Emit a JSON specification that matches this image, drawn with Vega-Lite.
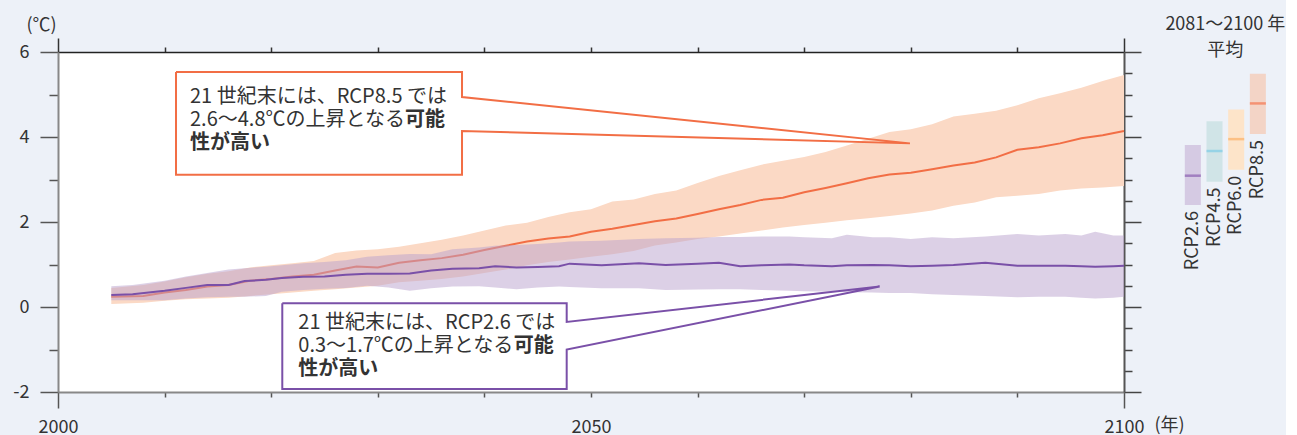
{
  "$schema": "https://vega.github.io/schema/vega-lite/v6.json",
  "background": "#edf1f8",
  "padding": {"left": 12, "top": 16, "right": 0, "bottom": 0},
  "bounds": "flush",
  "spacing": 58,
  "config": {
    "font": "Noto Sans CJK JP",
    "view": {"fill": "white", "stroke": null},
    "axis": {"labelFont": "Noto Sans CJK JP", "titleFont": "Noto Sans CJK JP", "labelColor": "#333", "titleColor": "#333", "labelFontSize": 18, "titleFontSize": 18, "titleFontWeight": "normal", "grid": false, "zindex": 1},
    "text": {"font": "Noto Sans CJK JP", "fontSize": 20, "color": "#333"}
  },
  "datasets": {
    "rcp85": [
      {"year": 2005, "mean": 0.24, "lo": 0.07, "hi": 0.45},
      {"year": 2008, "mean": 0.26, "lo": 0.10, "hi": 0.52},
      {"year": 2010, "mean": 0.34, "lo": 0.15, "hi": 0.60},
      {"year": 2012, "mean": 0.40, "lo": 0.18, "hi": 0.70},
      {"year": 2014, "mean": 0.48, "lo": 0.20, "hi": 0.78},
      {"year": 2016, "mean": 0.52, "lo": 0.22, "hi": 0.84},
      {"year": 2018, "mean": 0.62, "lo": 0.26, "hi": 0.93},
      {"year": 2020, "mean": 0.66, "lo": 0.30, "hi": 0.98},
      {"year": 2022, "mean": 0.72, "lo": 0.34, "hi": 1.03},
      {"year": 2024, "mean": 0.76, "lo": 0.38, "hi": 1.08},
      {"year": 2026, "mean": 0.86, "lo": 0.42, "hi": 1.27},
      {"year": 2028, "mean": 0.95, "lo": 0.46, "hi": 1.33},
      {"year": 2030, "mean": 0.93, "lo": 0.50, "hi": 1.36},
      {"year": 2032, "mean": 1.04, "lo": 0.58, "hi": 1.42},
      {"year": 2034, "mean": 1.10, "lo": 0.62, "hi": 1.50},
      {"year": 2036, "mean": 1.15, "lo": 0.66, "hi": 1.58},
      {"year": 2038, "mean": 1.23, "lo": 0.72, "hi": 1.68},
      {"year": 2040, "mean": 1.34, "lo": 0.80, "hi": 1.80},
      {"year": 2042, "mean": 1.44, "lo": 0.88, "hi": 1.92},
      {"year": 2044, "mean": 1.54, "lo": 0.98, "hi": 1.98},
      {"year": 2046, "mean": 1.61, "lo": 1.06, "hi": 2.12},
      {"year": 2048, "mean": 1.66, "lo": 1.12, "hi": 2.23},
      {"year": 2050, "mean": 1.77, "lo": 1.18, "hi": 2.30},
      {"year": 2052, "mean": 1.84, "lo": 1.24, "hi": 2.48},
      {"year": 2054, "mean": 1.93, "lo": 1.32, "hi": 2.53},
      {"year": 2056, "mean": 2.02, "lo": 1.45, "hi": 2.66},
      {"year": 2058, "mean": 2.08, "lo": 1.52, "hi": 2.74},
      {"year": 2060, "mean": 2.19, "lo": 1.60, "hi": 2.92},
      {"year": 2062, "mean": 2.30, "lo": 1.66, "hi": 3.08},
      {"year": 2064, "mean": 2.40, "lo": 1.73, "hi": 3.22},
      {"year": 2066, "mean": 2.52, "lo": 1.80, "hi": 3.35},
      {"year": 2068, "mean": 2.57, "lo": 1.87, "hi": 3.44},
      {"year": 2070, "mean": 2.70, "lo": 1.93, "hi": 3.53},
      {"year": 2072, "mean": 2.80, "lo": 1.98, "hi": 3.65},
      {"year": 2074, "mean": 2.91, "lo": 2.04, "hi": 3.80},
      {"year": 2076, "mean": 3.03, "lo": 2.09, "hi": 3.96},
      {"year": 2078, "mean": 3.12, "lo": 2.14, "hi": 4.12},
      {"year": 2080, "mean": 3.16, "lo": 2.20, "hi": 4.18},
      {"year": 2082, "mean": 3.24, "lo": 2.27, "hi": 4.30},
      {"year": 2084, "mean": 3.33, "lo": 2.38, "hi": 4.48},
      {"year": 2086, "mean": 3.40, "lo": 2.46, "hi": 4.55},
      {"year": 2088, "mean": 3.52, "lo": 2.58, "hi": 4.62},
      {"year": 2090, "mean": 3.70, "lo": 2.62, "hi": 4.75},
      {"year": 2092, "mean": 3.76, "lo": 2.66, "hi": 4.91},
      {"year": 2094, "mean": 3.85, "lo": 2.74, "hi": 5.03},
      {"year": 2096, "mean": 3.97, "lo": 2.79, "hi": 5.16},
      {"year": 2098, "mean": 4.04, "lo": 2.81, "hi": 5.32},
      {"year": 2100, "mean": 4.14, "lo": 2.85, "hi": 5.46}
    ],
    "rcp26": [
      {"year": 2005, "mean": 0.28, "lo": 0.16, "hi": 0.49},
      {"year": 2007, "mean": 0.30, "lo": 0.16, "hi": 0.52},
      {"year": 2010, "mean": 0.38, "lo": 0.16, "hi": 0.62},
      {"year": 2012, "mean": 0.45, "lo": 0.20, "hi": 0.72},
      {"year": 2014, "mean": 0.52, "lo": 0.23, "hi": 0.80},
      {"year": 2016, "mean": 0.52, "lo": 0.24, "hi": 0.88},
      {"year": 2017.5, "mean": 0.61, "lo": 0.24, "hi": 0.91},
      {"year": 2019.5, "mean": 0.64, "lo": 0.26, "hi": 0.95},
      {"year": 2021, "mean": 0.68, "lo": 0.36, "hi": 0.98},
      {"year": 2023, "mean": 0.71, "lo": 0.40, "hi": 1.03},
      {"year": 2025, "mean": 0.72, "lo": 0.43, "hi": 1.06},
      {"year": 2027, "mean": 0.76, "lo": 0.45, "hi": 1.10},
      {"year": 2029, "mean": 0.78, "lo": 0.50, "hi": 1.18},
      {"year": 2031, "mean": 0.78, "lo": 0.46, "hi": 1.22},
      {"year": 2033, "mean": 0.79, "lo": 0.38, "hi": 1.25},
      {"year": 2035, "mean": 0.86, "lo": 0.44, "hi": 1.24},
      {"year": 2037, "mean": 0.90, "lo": 0.48, "hi": 1.36},
      {"year": 2039.5, "mean": 0.91, "lo": 0.49, "hi": 1.40},
      {"year": 2041, "mean": 0.96, "lo": 0.46, "hi": 1.44},
      {"year": 2043, "mean": 0.93, "lo": 0.42, "hi": 1.46},
      {"year": 2045, "mean": 0.94, "lo": 0.46, "hi": 1.48},
      {"year": 2047, "mean": 0.96, "lo": 0.48, "hi": 1.52},
      {"year": 2048, "mean": 1.02, "lo": 0.47, "hi": 1.54},
      {"year": 2051, "mean": 0.98, "lo": 0.44, "hi": 1.56},
      {"year": 2054.5, "mean": 1.03, "lo": 0.44, "hi": 1.60},
      {"year": 2057, "mean": 0.99, "lo": 0.40, "hi": 1.62},
      {"year": 2060, "mean": 1.02, "lo": 0.41, "hi": 1.63},
      {"year": 2062, "mean": 1.04, "lo": 0.42, "hi": 1.65},
      {"year": 2064, "mean": 0.96, "lo": 0.42, "hi": 1.65},
      {"year": 2066, "mean": 0.98, "lo": 0.40, "hi": 1.66},
      {"year": 2068.6, "mean": 1.00, "lo": 0.38, "hi": 1.66},
      {"year": 2070, "mean": 0.98, "lo": 0.37, "hi": 1.64},
      {"year": 2072.6, "mean": 0.96, "lo": 0.36, "hi": 1.62},
      {"year": 2074, "mean": 0.98, "lo": 0.35, "hi": 1.70},
      {"year": 2076.4, "mean": 0.99, "lo": 0.34, "hi": 1.64},
      {"year": 2078, "mean": 0.98, "lo": 0.33, "hi": 1.64},
      {"year": 2080, "mean": 0.96, "lo": 0.33, "hi": 1.60},
      {"year": 2082, "mean": 0.97, "lo": 0.30, "hi": 1.64},
      {"year": 2084, "mean": 0.99, "lo": 0.28, "hi": 1.62},
      {"year": 2087, "mean": 1.04, "lo": 0.26, "hi": 1.66},
      {"year": 2090, "mean": 0.97, "lo": 0.23, "hi": 1.72},
      {"year": 2092, "mean": 0.97, "lo": 0.24, "hi": 1.68},
      {"year": 2094.5, "mean": 0.97, "lo": 0.24, "hi": 1.72},
      {"year": 2096, "mean": 0.96, "lo": 0.22, "hi": 1.68},
      {"year": 2097.3, "mean": 0.95, "lo": 0.20, "hi": 1.77},
      {"year": 2099, "mean": 0.96, "lo": 0.22, "hi": 1.68},
      {"year": 2100, "mean": 0.97, "lo": 0.24, "hi": 1.68}
    ],
    "callout": [
      {"box": "RCP8.5", "i": 0, "year": 2011.07, "value": 5.53},
      {"box": "RCP8.5", "i": 1, "year": 2037.90, "value": 5.53},
      {"box": "RCP8.5", "i": 2, "year": 2037.90, "value": 4.94},
      {"box": "RCP8.5", "i": 3, "year": 2079.92, "value": 3.85},
      {"box": "RCP8.5", "i": 4, "year": 2037.90, "value": 4.14},
      {"box": "RCP8.5", "i": 5, "year": 2037.90, "value": 3.11},
      {"box": "RCP8.5", "i": 6, "year": 2011.07, "value": 3.11},
      {"box": "RCP8.5", "i": 7, "year": 2011.07, "value": 5.53},
      {"box": "RCP2.6", "i": 0, "year": 2021.04, "value": 0.09},
      {"box": "RCP2.6", "i": 1, "year": 2047.72, "value": 0.09},
      {"box": "RCP2.6", "i": 2, "year": 2047.72, "value": -0.35},
      {"box": "RCP2.6", "i": 3, "year": 2077.08, "value": 0.48},
      {"box": "RCP2.6", "i": 4, "year": 2047.72, "value": -1.00},
      {"box": "RCP2.6", "i": 5, "year": 2047.72, "value": -1.93},
      {"box": "RCP2.6", "i": 6, "year": 2021.04, "value": -1.93},
      {"box": "RCP2.6", "i": 7, "year": 2021.04, "value": 0.09}
    ],
    "panel": [
      {"scenario": "RCP2.6", "lo": 2.40, "hi": 3.81, "mean": 3.09},
      {"scenario": "RCP4.5", "lo": 2.95, "hi": 4.37, "mean": 3.67},
      {"scenario": "RCP6.0", "lo": 3.23, "hi": 4.65, "mean": 3.95},
      {"scenario": "RCP8.5", "lo": 4.07, "hi": 5.49, "mean": 4.79}
    ]
  },
  "hconcat": [
    {
      "width": 1066,
      "height": 340,
      "layer": [
        {
          "layer": [
            {
              "data": {"name": "rcp85"},
              "mark": {"type": "area", "color": "#fbd9c5"},
              "encoding": {
                "x": {"field": "year", "type": "quantitative", "scale": {"domain": [2000, 2100], "nice": false, "zero": false},
                  "axis": {"orient": "bottom", "title": "(年)", "titleX": 1096, "titleY": 33, "titleAlign": "left", "titleBaseline": "middle", "titleAnchor": null,
                    "values": [2000, 2010, 2020, 2030, 2040, 2050, 2060, 2070, 2080, 2090, 2100],
                    "labelExpr": "datum.value % 50 === 0 ? '' + datum.value : ''",
                    "labelOverlap": false, "labelFlush": false, "labelBaseline": "middle",
                    "labelPadding": {"condition": {"test": "datum.value === 2000 || datum.value === 2100", "value": 19}, "value": 30},
                    "tickSize": {"condition": {"test": "datum.value === 2000 || datum.value === 2100", "value": 16}, "value": 5},
                    "tickColor": "#555", "tickWidth": 1.5, "domainColor": "#888", "domainWidth": 2}},
                "y": {"field": "lo", "type": "quantitative", "scale": {"domain": [-2, 6], "nice": false, "zero": false},
                  "axis": {"orient": "left", "title": "(℃)", "titleAngle": 0, "titleX": -17, "titleY": -27, "titleAlign": "center", "titleBaseline": "middle", "titleAnchor": null,
                    "values": [-2, -1.5, -1, -0.5, 0, 0.5, 1, 1.5, 2, 2.5, 3, 3.5, 4, 4.5, 5, 5.5, 6],
                    "labelExpr": "datum.value % 2 === 0 ? '' + datum.value : ''",
                    "labelOverlap": false, "labelFlush": false, "labelPadding": 11,
                    "tickSize": {"condition": {"test": "datum.value % 2 === 0", "value": 18}, "value": 9},
                    "tickColor": "#555", "tickWidth": 1.5, "domainColor": "#888", "domainWidth": 2}},
                "y2": {"field": "hi"}
              }
            },
            {
              "data": {"name": "rcp85"},
              "mark": {"type": "line", "color": "#f26e45", "strokeWidth": 2},
              "encoding": {"x": {"field": "year", "type": "quantitative"}, "y": {"field": "mean", "type": "quantitative"}}
            },
            {
              "data": {"name": "rcp26"},
              "mark": {"type": "area", "color": "#b9a1cd", "opacity": 0.5},
              "encoding": {"x": {"field": "year", "type": "quantitative"}, "y": {"field": "lo", "type": "quantitative"}, "y2": {"field": "hi"}}
            },
            {
              "data": {"name": "rcp26"},
              "mark": {"type": "line", "color": "#7a50a8", "strokeWidth": 2},
              "encoding": {"x": {"field": "year", "type": "quantitative"}, "y": {"field": "mean", "type": "quantitative"}}
            },
            {
              "data": {"values": [{}]},
              "mark": {"type": "rect", "color": "white"},
              "encoding": {"x": {"datum": 2011.07, "type": "quantitative"}, "x2": {"datum": 2037.9}, "y": {"datum": 5.53, "type": "quantitative"}, "y2": {"datum": 3.11}}
            },
            {
              "data": {"values": [{}]},
              "mark": {"type": "rect", "color": "white"},
              "encoding": {"x": {"datum": 2021.04, "type": "quantitative"}, "x2": {"datum": 2047.72}, "y": {"datum": 0.09, "type": "quantitative"}, "y2": {"datum": -1.93}}
            },
            {
              "data": {"name": "callout"},
              "mark": {"type": "line", "strokeWidth": 2, "clip": false},
              "encoding": {
                "x": {"field": "year", "type": "quantitative"},
                "y": {"field": "value", "type": "quantitative"},
                "order": {"field": "i", "type": "quantitative"},
                "detail": {"field": "box"},
                "color": {"field": "box", "type": "nominal", "scale": {"domain": ["RCP8.5", "RCP2.6"], "range": ["#f26e45", "#7a50a8"]}, "legend": null}
              }
            },
            {"data": {"values": [{}]}, "mark": {"type": "text", "align": "left", "baseline": "middle", "text": "21 世紀末には、RCP8.5 では"},
             "encoding": {"x": {"datum": 2012.38, "type": "quantitative"}, "y": {"datum": 4.94, "type": "quantitative"}}},
            {"data": {"values": [{}]}, "mark": {"type": "text", "align": "left", "baseline": "middle", "text": "2.6〜4.8℃の上昇となる"},
             "encoding": {"x": {"datum": 2012.38, "type": "quantitative"}, "y": {"datum": 4.40, "type": "quantitative"}}},
            {"data": {"values": [{}]}, "mark": {"type": "text", "align": "right", "baseline": "middle", "fontWeight": "bold", "text": "可能"},
             "encoding": {"x": {"datum": 2036.30, "type": "quantitative"}, "y": {"datum": 4.40, "type": "quantitative"}}},
            {"data": {"values": [{}]}, "mark": {"type": "text", "align": "left", "baseline": "middle", "fontWeight": "bold", "text": "性が高い"},
             "encoding": {"x": {"datum": 2012.38, "type": "quantitative"}, "y": {"datum": 3.86, "type": "quantitative"}}},
            {"data": {"values": [{}]}, "mark": {"type": "text", "align": "left", "baseline": "middle", "text": "21 世紀末には、RCP2.6 では"},
             "encoding": {"x": {"datum": 2022.54, "type": "quantitative"}, "y": {"datum": -0.376, "type": "quantitative"}}},
            {"data": {"values": [{}]}, "mark": {"type": "text", "align": "left", "baseline": "middle", "text": "0.3〜1.7℃の上昇となる"},
             "encoding": {"x": {"datum": 2022.54, "type": "quantitative"}, "y": {"datum": -0.918, "type": "quantitative"}}},
            {"data": {"values": [{}]}, "mark": {"type": "text", "align": "right", "baseline": "middle", "fontWeight": "bold", "text": "可能"},
             "encoding": {"x": {"datum": 2046.5, "type": "quantitative"}, "y": {"datum": -0.918, "type": "quantitative"}}},
            {"data": {"values": [{}]}, "mark": {"type": "text", "align": "left", "baseline": "middle", "fontWeight": "bold", "text": "性が高い"},
             "encoding": {"x": {"datum": 2022.54, "type": "quantitative"}, "y": {"datum": -1.46, "type": "quantitative"}}}
          ]
        },
        {
          "data": {"name": "rcp85"},
          "mark": {"type": "point", "opacity": 0},
          "encoding": {
            "x": {"field": "year", "type": "quantitative",
              "axis": {"orient": "top", "title": null, "labels": false,
                "values": [2000, 2010, 2020, 2030, 2040, 2050, 2060, 2070, 2080, 2090, 2100],
                "tickSize": {"condition": {"test": "datum.value === 2000 || datum.value === 2100", "value": 14}, "value": 5},
                "tickColor": "#333", "tickWidth": 1.5, "domainColor": "#222", "domainWidth": 1.5}},
            "y": {"field": "mean", "type": "quantitative",
              "axis": {"orient": "right", "title": null, "labels": false,
                "values": [-2, -1.5, -1, -0.5, 0, 0.5, 1, 1.5, 2, 2.5, 3, 3.5, 4, 4.5, 5, 5.5, 6],
                "tickSize": {"condition": {"test": "datum.value % 2 === 0", "value": 17}, "value": 8},
                "tickColor": "#444", "tickWidth": 1.5, "domainColor": "#555", "domainWidth": 2}}
          }
        }
      ],
      "resolve": {"axis": {"x": "independent", "y": "independent"}}
    },
    {
      "width": 86.7,
      "height": 340,
      "view": {"fill": null, "stroke": null},
      "title": {"text": ["2081〜2100 年", "平均"], "fontSize": 18, "fontWeight": "normal", "color": "#333", "lineHeight": 26, "anchor": "middle", "offset": -8},
      "data": {"name": "panel"},
      "encoding": {
        "x": {"field": "scenario", "type": "nominal", "scale": {"paddingInner": 0.26, "paddingOuter": 0.13}, "axis": null}
      },
      "layer": [
        {
          "mark": {"type": "rect"},
          "encoding": {
            "y": {"field": "lo", "type": "quantitative", "scale": {"domain": [-2, 6], "nice": false, "zero": false}, "axis": null},
            "y2": {"field": "hi"},
            "color": {"field": "scenario", "type": "nominal", "scale": {"domain": ["RCP2.6", "RCP4.5", "RCP6.0", "RCP8.5"], "range": ["#d5cae3", "#d0e4e7", "#fde4c9", "#f3d4c6"]}, "legend": null}
          }
        },
        {
          "mark": {"type": "tick", "thickness": 2.5},
          "encoding": {
            "y": {"field": "mean", "type": "quantitative"},
            "color": {"field": "scenario", "type": "nominal", "scale": {"domain": ["RCP2.6", "RCP4.5", "RCP6.0", "RCP8.5"], "range": ["#8a5fb0", "#7dcce5", "#fbb066", "#f37650"]}, "legend": null}
          }
        },
        {
          "mark": {"type": "text", "angle": 270, "align": "right", "baseline": "middle", "dx": -6, "fontSize": 18},
          "encoding": {
            "y": {"field": "lo", "type": "quantitative"},
            "text": {"field": "scenario"}
          }
        }
      ],
      "resolve": {"scale": {"color": "independent"}}
    }
  ]
}
